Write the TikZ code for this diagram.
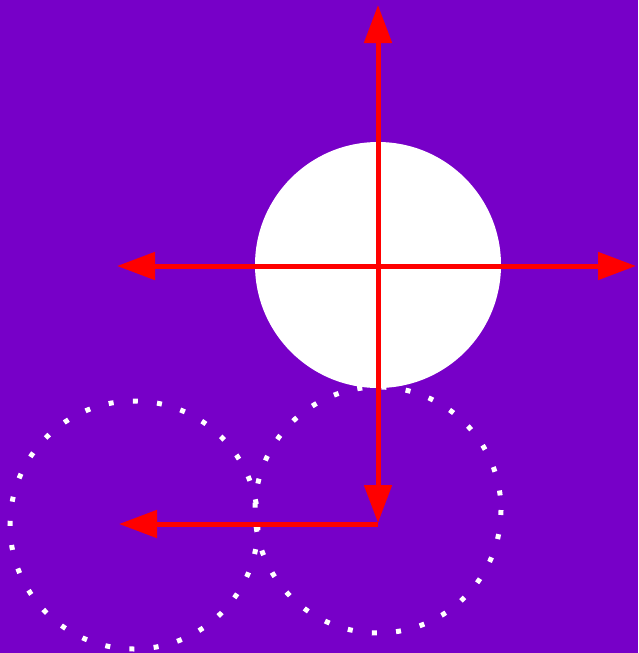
\documentclass[tikz,border=0pt]{standalone}
\usetikzlibrary{arrows.meta}
\definecolor{bgpurple}{RGB}{119,0,200}
\tikzset{
  redarrow/.style={draw=red, line width=5pt, -{Triangle[length=38pt,width=27pt]}},
  dotring/.style={draw=white, line width=5pt, dash pattern=on 5pt off 19.3pt},
}
\begin{document}
\begin{tikzpicture}[x=1pt,y=-1pt]
\fill[bgpurple] (0,0) rectangle (638,653);
\useasboundingbox (0,0) rectangle (638,653);
\draw[dotring] (134,525) circle (124);
\draw[dotring] (378,510) circle (123);
\fill[white] (378,265) circle (123);
\coordinate (c) at (378,266);
\coordinate (top) at (378,5);
\coordinate (lft) at (117,266);
\coordinate (rgt) at (636,266);
\coordinate (bend) at (378,524);
\coordinate (dn) at (378,523);
\coordinate (fin) at (119,524);
\draw[redarrow] (c) -- (top);
\draw[redarrow] (c) -- (lft);
\draw[redarrow] (c) -- (rgt);
\draw[redarrow] (c) -- (dn);
\draw[draw=red, line width=5pt, -{Triangle[length=38pt,width=27pt]}] (bend) -- (fin);
\end{tikzpicture}
\end{document}
